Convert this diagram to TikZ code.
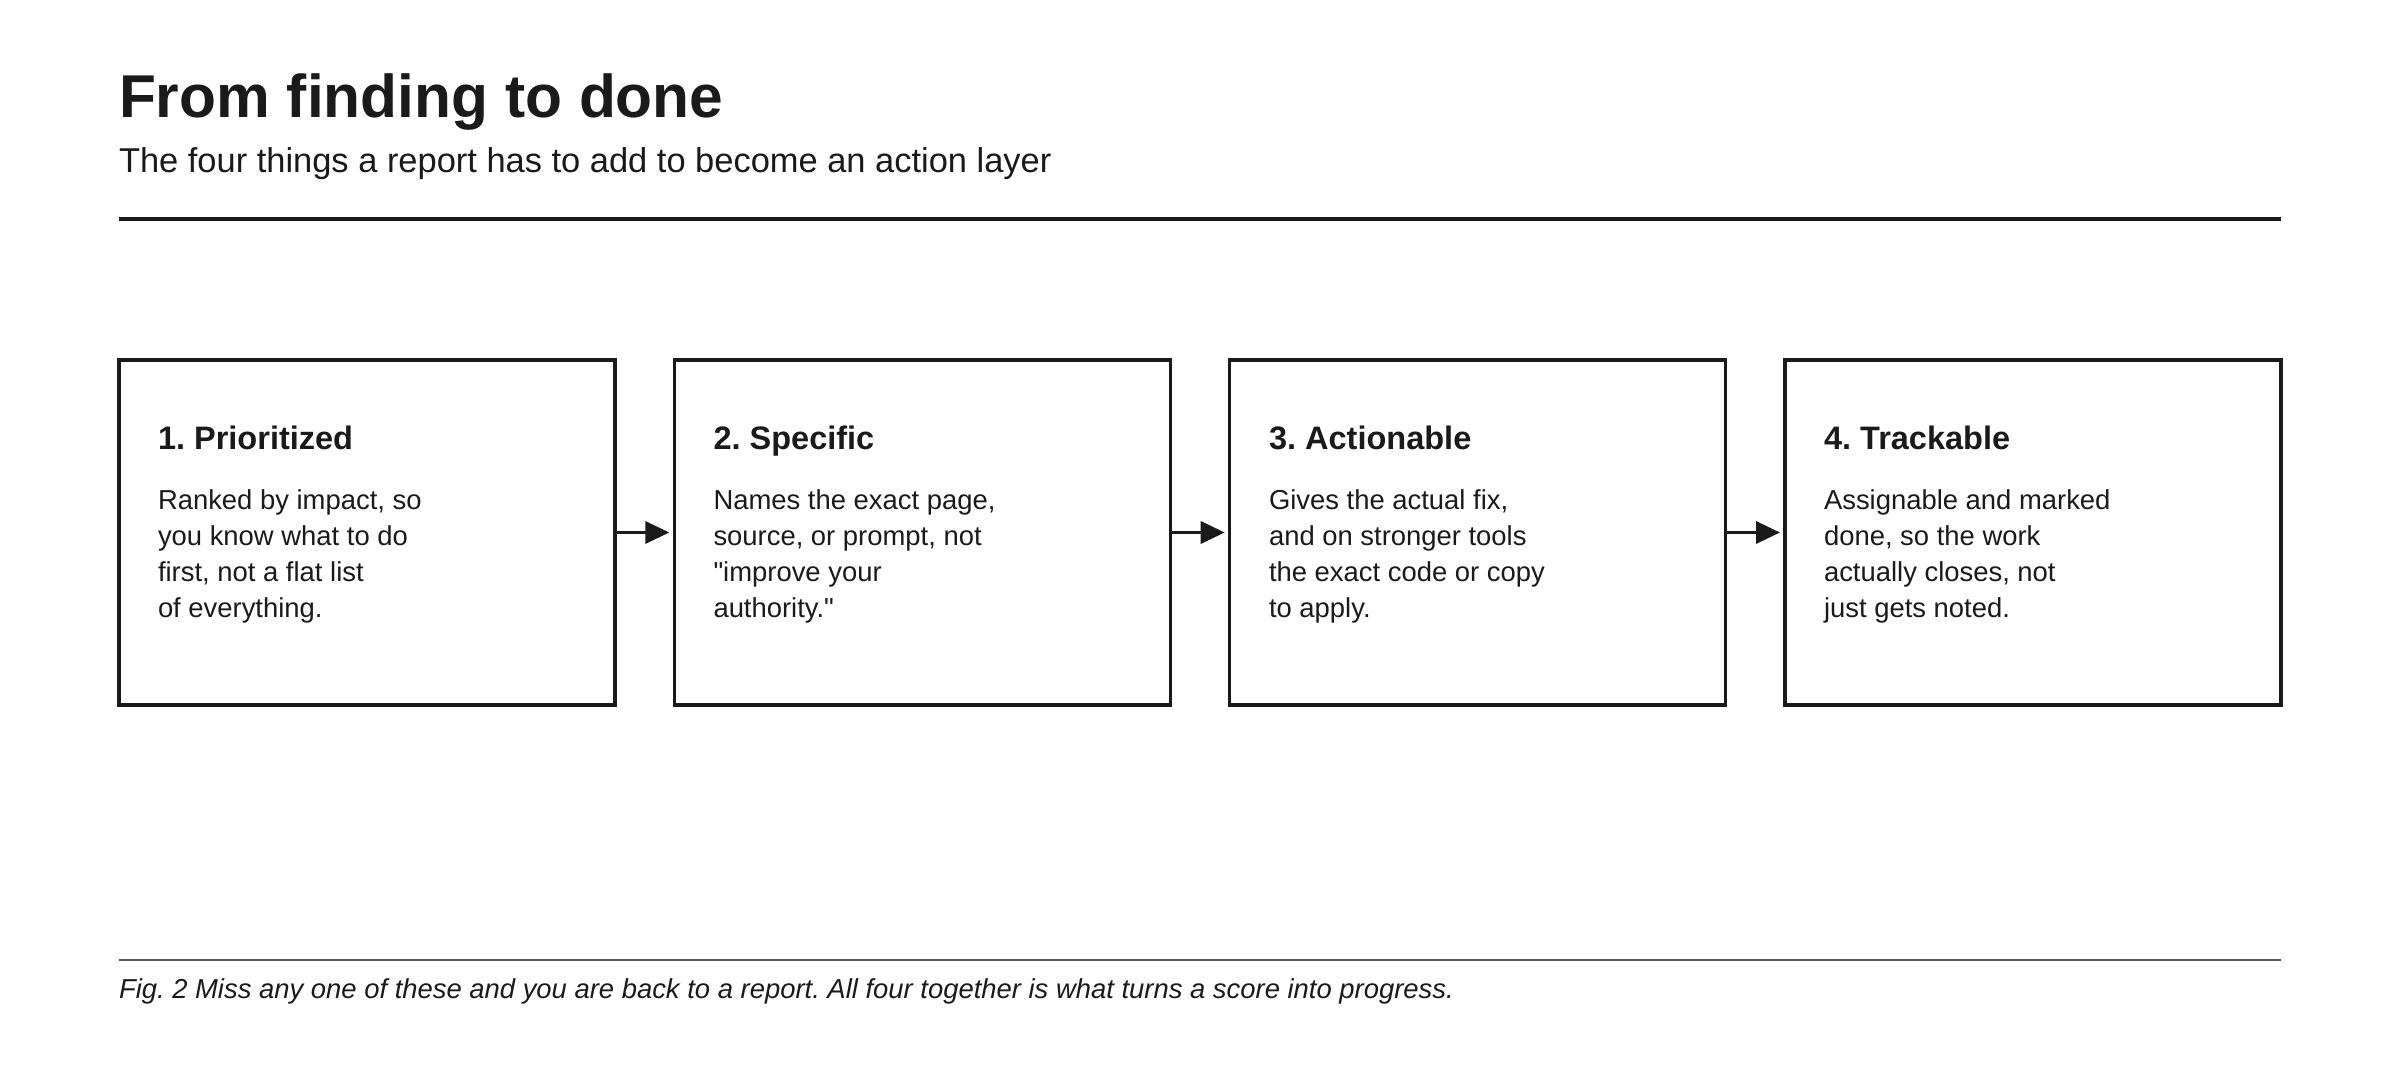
\documentclass[tikz,border=0pt]{standalone}
\usepackage{fontspec}
\setmainfont{Liberation Sans}
\usetikzlibrary{arrows.meta}
\definecolor{ink}{HTML}{1A1A1A}
\definecolor{rulegray}{HTML}{555555}
\frenchspacing

\begin{document}
\begin{tikzpicture}
  [every node/.style={inner sep=0pt,outer sep=0pt,text=ink},
   card/.style={draw=ink,line width=1pt,minimum width=4.96cm,minimum height=3.45cm},
   head/.style={anchor=base west,font=\bfseries\fontsize{9.25}{11}\selectfont},
   body/.style={anchor=base west,align=left,font=\fontsize{7.8}{10.24}\selectfont},
   flow/.style={draw=ink,line width=1pt,-{Triangle[length=0.24cm,width=0.22cm]},shorten >=0.05cm}]
  \useasboundingbox (0,0) rectangle (24,-10.8);

  \node[anchor=base west,font=\bfseries\fontsize{17.2}{20}\selectfont] (title) at (1.19,-1.18) {From finding to done};
  \node[anchor=base west,font=\fontsize{9.8}{12}\selectfont] (sub) at (1.19,-1.73) {The four things a report has to add to become an action layer};
  \draw[ink,line width=1pt] (1.19,-2.19) -- (22.81,-2.19);

  \node[card] (p1) at (3.67,-5.325)  {};
  \node[card] (p2) at (9.223,-5.325) {};
  \node[card] (p3) at (14.777,-5.325) {};
  \node[card] (p4) at (20.33,-5.325) {};

  \node[head] (h1) at (1.58,-4.49)  {1. Prioritized};
  \node[head] (h2) at (7.135,-4.49) {2. Specific};
  \node[head] (h3) at (12.69,-4.49) {3. Actionable};
  \node[head] (h4) at (18.24,-4.49) {4. Trackable};

  % base of a multi-line node sits on its last line
  \node[body] (b1) at (1.58,-6.17)  {Ranked by impact, so\\you know what to do\\first, not a flat list\\of everything.};
  \node[body] (b2) at (7.135,-6.17) {Names the exact page,\\source, or prompt, not\\\textquotedbl improve your\\authority.\textquotedbl};
  \node[body] (b3) at (12.69,-6.17) {Gives the actual fix,\\and on stronger tools\\the exact code or copy\\to apply.};
  \node[body] (b4) at (18.24,-6.17) {Assignable and marked\\done, so the work\\actually closes, not\\just gets noted.};

\foreach \from/\to in
{p1/p2, p2/p3, p3/p4}
    \draw[flow] (\from) -- (\to);

  \draw[rulegray,line width=0.57pt] (1.19,-9.6) -- (22.81,-9.6);
  \node[anchor=base west,font=\itshape\fontsize{7.8}{10}\selectfont] (cap) at (1.19,-9.98) {Fig. 2 Miss any one of these and you are back to a report. All four together is what turns a score into progress.};
\end{tikzpicture}
\end{document}
